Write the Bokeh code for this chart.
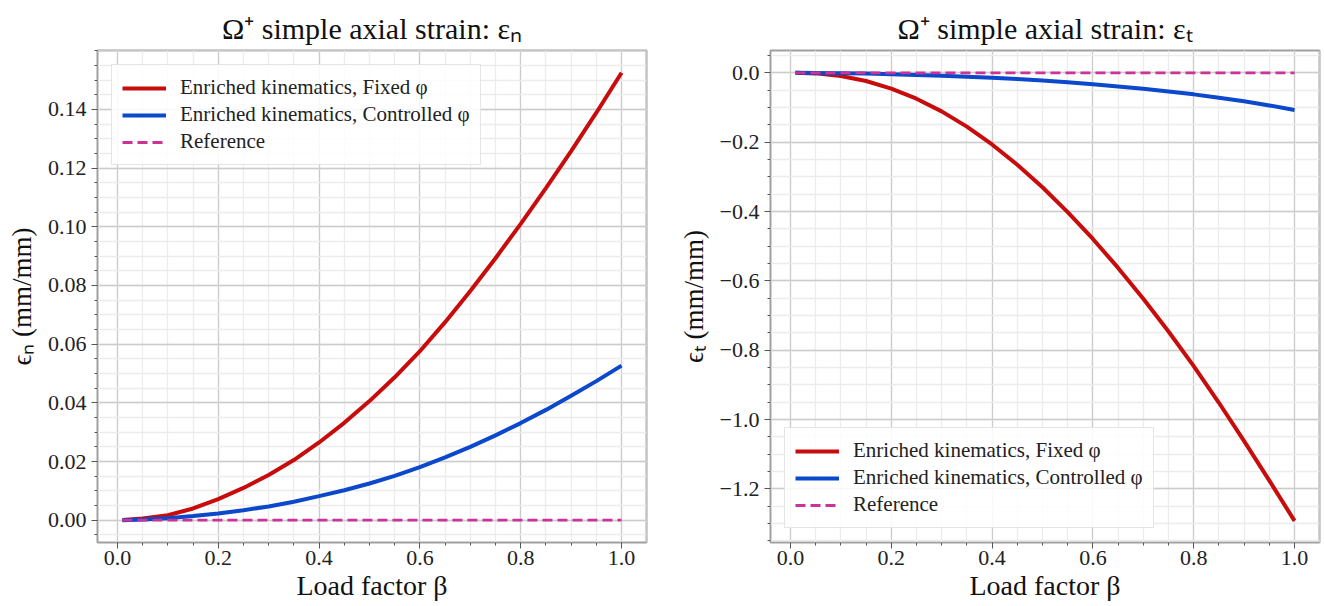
from bokeh.plotting import figure
from bokeh.layouts import row
from bokeh.models import Range1d, FixedTicker, CustomJSTickFormatter, Legend, LegendItem
from bokeh.embed import file_html
from bokeh.resources import INLINE

# ---------------- data ----------------
beta = [0.01, 0.05, 0.10, 0.15, 0.20, 0.25, 0.30, 0.35, 0.40, 0.45, 0.50,
        0.55, 0.60, 0.65, 0.70, 0.75, 0.80, 0.85, 0.90, 0.95, 1.00]

en_fixed = [0.0001, 0.0006, 0.0017, 0.0040, 0.0072, 0.0110, 0.0154, 0.0205, 0.0265, 0.0332, 0.0406,
            0.0487, 0.0576, 0.0675, 0.0781, 0.0893, 0.1010, 0.1132, 0.1258, 0.1389, 0.1525]
en_controlled = [0.0, 0.0002, 0.0007, 0.0014, 0.0023, 0.0034, 0.0047, 0.0063, 0.0082, 0.0102, 0.0125,
                 0.0151, 0.0181, 0.0214, 0.0250, 0.0289, 0.0331, 0.0376, 0.0424, 0.0474, 0.0527]
en_reference = [0.0] * len(beta)

et_fixed = [0.0, -0.0015, -0.009, -0.0235, -0.0455, -0.0745, -0.111, -0.155, -0.2065, -0.265, -0.330,
            -0.4015, -0.479, -0.5625, -0.6515, -0.746, -0.846, -0.9515, -1.062, -1.176, -1.292]
et_controlled = [0.0, -0.0003, -0.001, -0.002, -0.004, -0.006, -0.008, -0.011, -0.014, -0.018, -0.022,
                 -0.027, -0.033, -0.039, -0.046, -0.054, -0.062, -0.072, -0.082, -0.094, -0.107]
et_reference = [0.0] * len(beta)

x_ticks = [0.0, 0.2, 0.4, 0.6, 0.8, 1.0]
x_minor = [i * 0.05 for i in range(-1, 22)]
en_ticks = [0.0, 0.02, 0.04, 0.06, 0.08, 0.10, 0.12, 0.14]
en_minor = [i * 0.005 for i in range(-2, 33)]
et_ticks = [0.0, -0.2, -0.4, -0.6, -0.8, -1.0, -1.2]
et_minor = [-i * 0.05 for i in range(-2, 28)]

labels = ["Enriched kinematics, Fixed \u03c6", "Enriched kinematics, Controlled \u03c6", "Reference"]
titles = ["\u03a9\u207a simple axial strain: \u03b5\u2099", "\u03a9\u207a simple axial strain: \u03b5\u209c"]
ylabels = ["\u03f5\u2099 (mm/mm)", "\u03f5\u209c (mm/mm)"]
xlabel = "Load factor \u03b2"

RED = "#c80c0c"
BLUE = "#0b48cc"
MAG = "#cc3399"
FONT = "Liberation Serif"


def make(title, ylabel, y_fixed, y_ctrl, y_ref, yticks, yminor, yr, ydigits,
         width, bl, br, legend_loc):
    p = figure(width=width, height=604, output_backend="svg", toolbar_location=None,
               x_range=Range1d(-0.0395, 1.0495), y_range=Range1d(*yr),
               min_border_left=bl, min_border_right=br, min_border_top=50, min_border_bottom=62)
    p.background_fill_color = "white"
    p.border_fill_color = "white"
    p.outline_line_color = "#a0a0a0"
    p.outline_line_width = 2

    p.title.text = title
    p.title.align = "center"
    p.title.text_font = FONT
    p.title.text_font_size = "30px"
    p.title.text_font_style = "normal"
    p.title.text_color = "#111111"
    p.title.standoff = 11

    p.xaxis.ticker = FixedTicker(ticks=x_ticks, minor_ticks=x_minor)
    p.yaxis.ticker = FixedTicker(ticks=yticks, minor_ticks=yminor)
    p.xaxis.formatter = CustomJSTickFormatter(code="return (tick < -1e-9 ? '\u2212' : '') + Math.abs(tick).toFixed(1);")
    p.yaxis.formatter = CustomJSTickFormatter(
        code="return (tick < -1e-9 ? '\u2212' : '') + Math.abs(tick).toFixed(%d);" % ydigits)

    for ax in (p.xaxis, p.yaxis):
        ax.axis_line_color = None
        ax.major_tick_line_color = "#555555"
        ax.minor_tick_line_color = "#555555"
        ax.major_tick_out = 6
        ax.major_tick_in = 0
        ax.minor_tick_out = 3
        ax.minor_tick_in = 0
        ax.major_label_text_font = FONT
        ax.major_label_text_font_size = "22px"
        ax.major_label_text_color = "#222222"
        ax.axis_label_text_font = FONT
        ax.axis_label_text_font_style = "normal"
        ax.axis_label_text_color = "#111111"
    p.xaxis.major_label_standoff = 2
    p.xaxis.axis_label = xlabel
    p.xaxis.axis_label_text_font_size = "28px"
    p.xaxis.axis_label_standoff = 2
    p.yaxis.axis_label = ylabel
    p.yaxis.axis_label_text_font_size = "27px"
    p.yaxis.axis_label_standoff = 8

    for g in (p.xgrid, p.ygrid):
        g.grid_line_color = "#cccccc"
        g.grid_line_width = 1.3
        g.minor_grid_line_color = "#ececec"
        g.minor_grid_line_width = 1.3

    r1 = p.line(beta, y_fixed, line_color=RED, line_width=4)
    r2 = p.line(beta, y_ctrl, line_color=BLUE, line_width=4)
    r3 = p.line(beta, y_ref, line_color=MAG, line_width=2.8, line_dash="10 5")

    leg = Legend(items=[LegendItem(label=labels[0], renderers=[r1]),
                        LegendItem(label=labels[1], renderers=[r2]),
                        LegendItem(label=labels[2], renderers=[r3])],
                 location=legend_loc, margin=14)
    leg.label_text_font = FONT
    leg.label_text_font_size = "21px"
    leg.label_text_color = "#222222"
    leg.glyph_width = 44
    leg.glyph_height = 18
    leg.label_height = 18
    leg.label_standoff = 14
    leg.spacing = 2
    leg.padding = 10
    leg.border_line_color = "#cccccc"
    leg.border_line_width = 1.2
    leg.background_fill_color = "white"
    leg.background_fill_alpha = 0.85
    p.add_layout(leg)
    return p


p1 = make(titles[0], ylabels[0], en_fixed, en_controlled, en_reference,
          en_ticks, en_minor, (-0.0076, 0.1601), 2, 658, 97, 12, "top_left")
p2 = make(titles[1], ylabels[1], et_fixed, et_controlled, et_reference,
          et_ticks, et_minor, (-1.3545, 0.0645), 1, 667, 112, 6, "bottom_left")

layout = row(p1, p2)
open("out.html", "w").write(file_html(layout, INLINE))
